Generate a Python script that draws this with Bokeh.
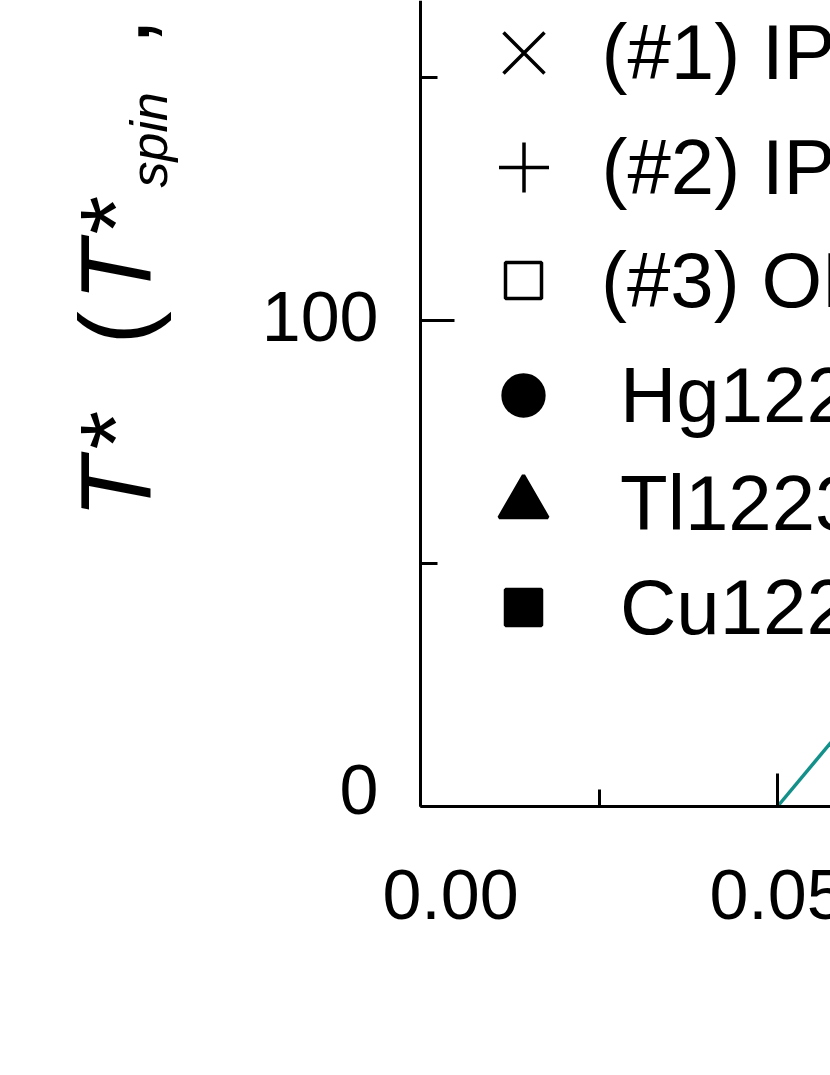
import math
from bokeh.plotting import figure
from bokeh.models import Range1d, FixedTicker, Label, Legend, LegendItem
from bokeh.embed import file_html
from bokeh.resources import INLINE

# ---------------- data ----------------
x_ticks = [0.00, 0.05, 0.10]
x_tick_labels = ["0.00", "0.05", "0.10"]
x_minor_ticks = [0.025, 0.075]
y_ticks = [0, 100, 200]
y_tick_labels = ["0", "100", "200"]
y_minor_ticks = [50, 150]

# teal line (visible part): starts at p = 0.05, T = 0
line_p = [0.050, 0.0575]
line_T = [0.0, 13.2]

series_labels = ["(#1) IP", "(#2) IP", "(#3) OP", "Hg1223", "Tl1223", "Cu1223"]
series_markers = ["x", "cross", "square", "circle", "triangle", "square"]
series_filled = [False, False, False, True, True, True]
# the points of these series lie outside the visible (cropped) region
series_p = [[float("nan")] for _ in series_labels]
series_T = [[float("nan")] for _ in series_labels]

# ---------------- layout ----------------
FONT = "Liberation Sans"
W, H = 830, 1070
X0_PX, Y0_PX = 420, 806          # canvas position of the origin
PX_PER_X = 357 / 0.05
PX_PER_Y = 486 / 100
BASE_SHIFT = 0.37                # text box offset (fraction of font size)

x_range = Range1d(-X0_PX / PX_PER_X, (W - X0_PX) / PX_PER_X)
y_range = Range1d(-(H - Y0_PX) / PX_PER_Y, Y0_PX / PX_PER_Y)

p = figure(width=W, height=H, output_backend="svg", toolbar_location=None,
           x_range=x_range, y_range=y_range, min_border=0,
           min_border_left=0, min_border_right=0, min_border_top=0, min_border_bottom=0)
p.outline_line_color = None
p.xgrid.visible = False
p.ygrid.visible = False
p.background_fill_color = "white"
p.border_fill_color = "white"

p.xaxis.ticker = FixedTicker(ticks=x_ticks, minor_ticks=x_minor_ticks)
p.yaxis.ticker = FixedTicker(ticks=y_ticks, minor_ticks=y_minor_ticks)
p.xaxis.fixed_location = 0
p.yaxis.fixed_location = 0
p.xaxis.bounds = (0, 1)
p.yaxis.bounds = (0, 1000)
for ax, maj in ((p.xaxis, 33), (p.yaxis, 34)):
    ax.axis_line_width = 3
    ax.axis_line_color = "black"
    ax.major_tick_line_width = 3
    ax.minor_tick_line_width = 3
    ax.major_tick_line_color = "black"
    ax.minor_tick_line_color = "black"
    ax.major_tick_in = maj
    ax.major_tick_out = 0
    ax.minor_tick_in = 17
    ax.minor_tick_out = 0
    ax.major_label_text_color = None

# teal line
p.line(line_p, line_T, line_color="#13908a", line_width=3.5)

# series renderers (for legend)
renderers = []
for lab, mk, filled, xs, ys in zip(series_labels, series_markers, series_filled, series_p, series_T):
    r = p.scatter(xs, ys, marker=mk, line_color="black", line_width=3.5,
                  fill_color="black" if filled else None)
    renderers.append(r)

# one legend per row so each marker keeps its own size
marker_sizes = [58, 50, 36, 41, 49, 36]
row_centers = [52, 167, 280, 395, 503, 607]      # canvas y
text_origins = [601, 601, 601, 620, 620, 620]    # canvas x
MARK_X = 523
for lab, r, sz, c, tx in zip(series_labels, renderers, marker_sizes, row_centers, text_origins):
    gw = int(round(sz / 0.4))
    row_h = max(130, gw)
    left = MARK_X - gw / 2
    standoff = int(round(tx - MARK_X - gw / 2))
    leg = Legend(items=[LegendItem(label=lab, renderers=[r])],
                 location=(left, (H - c) - row_h / 2),
                 glyph_width=gw, glyph_height=row_h, label_height=row_h,
                 padding=0, spacing=0, margin=0, label_standoff=standoff,
                 border_line_color=None, background_fill_alpha=0,
                 label_text_font=FONT, label_text_font_size="78px",
                 label_text_color="black")
    p.add_layout(leg)

# x tick labels (first one nudged right as in the original)
TICK_FS = 70
for i, (t, lab) in enumerate(zip(x_ticks, x_tick_labels)):
    p.add_layout(Label(x=t, y=H - 920 + BASE_SHIFT * TICK_FS, x_units="data", y_units="screen",
                       text=lab, text_align="center", text_baseline="alphabetic",
                       x_offset=30 if i == 0 else 0,
                       text_font=FONT, text_font_size=f"{TICK_FS}px", text_color="black"))

# y tick labels (bottom one nudged up as in the original)
for i, (t, lab) in enumerate(zip(y_ticks, y_tick_labels)):
    p.add_layout(Label(x=378, y=t, x_units="screen", y_units="data",
                       text=lab, text_align="right", text_baseline="alphabetic",
                       y_offset=(-9 if i == 0 else -22) + BASE_SHIFT * TICK_FS,
                       text_font=FONT, text_font_size=f"{TICK_FS}px", text_color="black"))

# y axis title, rotated, built from pieces: (text, style, size, baseline x, start y)
title_parts = [
    ("T", "italic", 100, 151, 518),
    ("*", "normal", 100, 151, 449),
    ("(", "normal", 100, 151, 344),
    ("T", "italic", 100, 151, 301),
    ("*", "normal", 100, 151, 234),
    ("spin", "italic", 52, 168, 187),
    (",", "normal", 100, 151, 45),
]
for txt, style, fs, bx, oy in title_parts:
    p.add_layout(Label(x=bx - BASE_SHIFT * fs, y=H - oy, x_units="screen", y_units="screen",
                       text=txt, angle=math.pi / 2, text_align="left", text_baseline="alphabetic",
                       text_font=FONT, text_font_style=style, text_font_size=f"{fs}px",
                       text_color="black"))

open("out.html", "w").write(file_html(p, INLINE))
